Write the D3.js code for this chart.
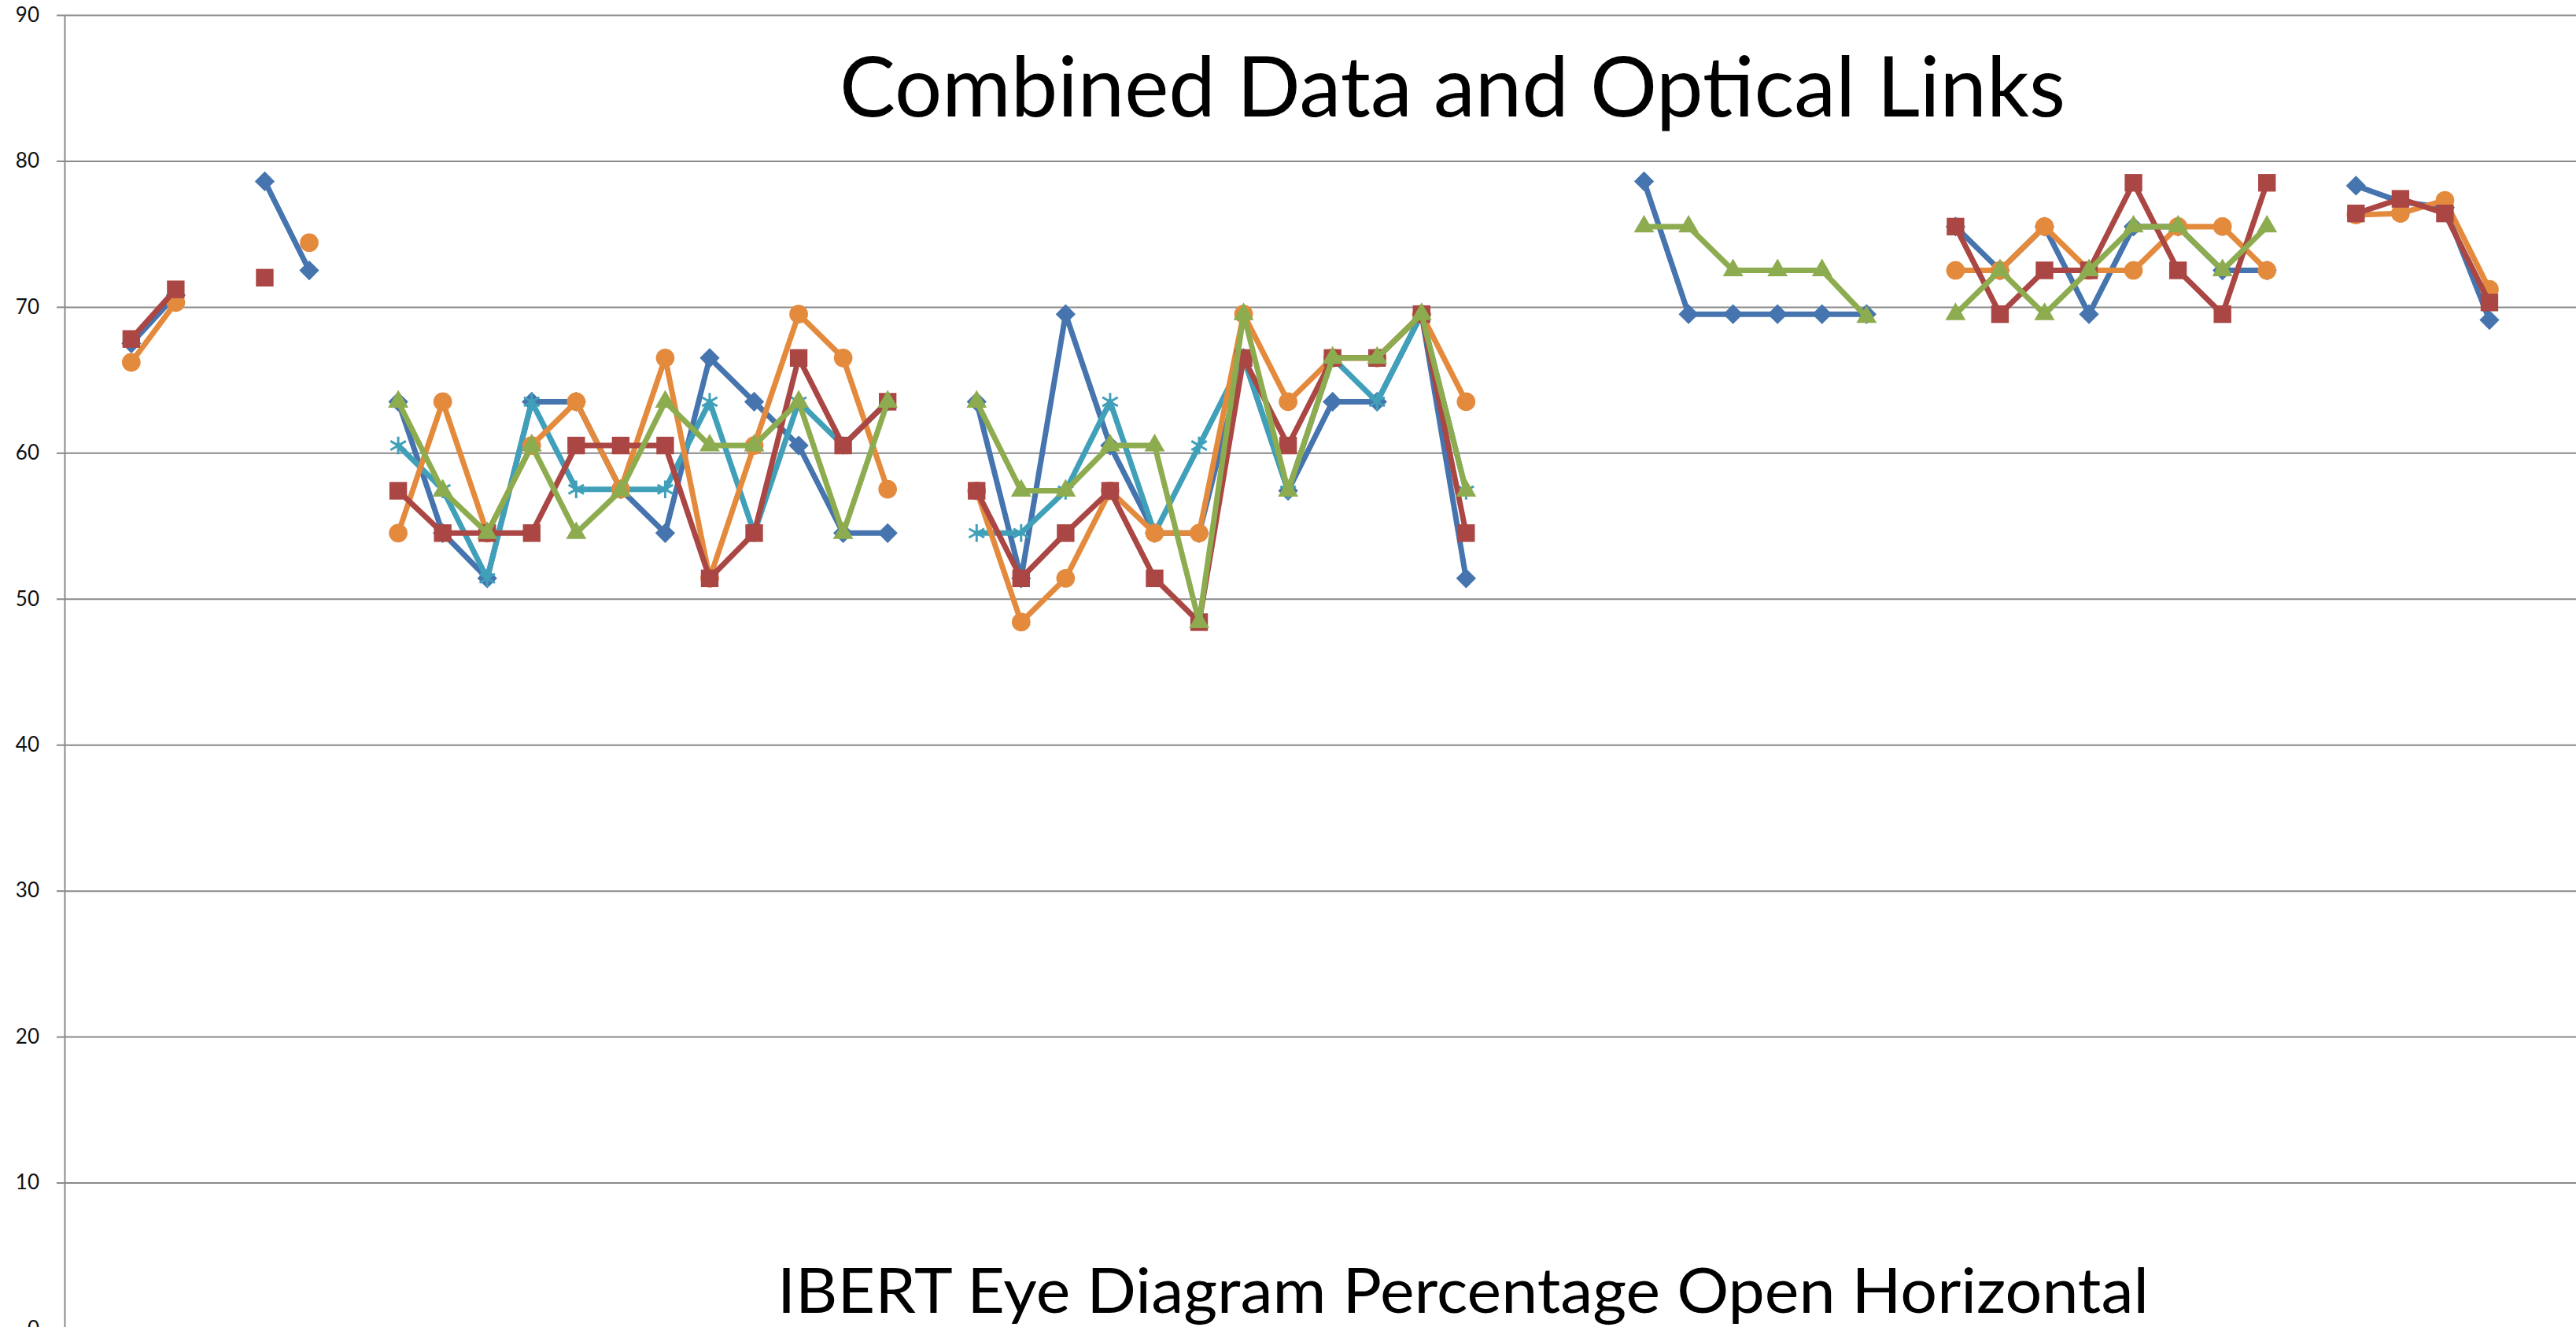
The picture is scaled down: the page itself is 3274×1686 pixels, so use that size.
<!DOCTYPE html>
<html>
<head>
<meta charset="utf-8">
<script src="https://cdn.jsdelivr.net/npm/d3@7"></script>
<style>
body { margin: 0; background: #fff; }
svg { display: block; }
</style>
</head>
<body>
<svg></svg>
<script>
// category slots along the x axis (first one is empty, as in the sheet)
let categories = [0, 1, 2, 3, 4, 5, 6, 7, 8, 9, 10, 11, 12, 13, 14, 15, 16, 17, 18, 19, 20,
    21, 22, 23, 24, 25, 26, 27, 28, 29, 30, 31, 32, 33, 34, 35, 36, 37, 38, 39, 40,
    41, 42, 43, 44, 45, 46, 47, 48, 49, 50, 51, 52, 53, 54, 55, 56]

let yTicks = [0, 10, 20, 30, 40, 50, 60, 70, 80, 90]

// series values, null = blank cell (line is broken there)
let blue = [null,
    67.5, 70.8, null, 78.6, 72.5, null,
    63.5, 54.5, 51.4, 63.5, 63.5, 57.5, 54.5, 66.5, 63.5, 60.5, 54.5, 54.5, null,
    63.5, 51.4, 69.5, 60.5, 54.5, 54.5, 66.5, 57.4, 63.5, 63.5, 69.5, 51.4, null, null, null,
    78.6, 69.5, 69.5, 69.5, 69.5, 69.5, null,
    75.5, 72.5, 75.5, 69.5, 75.5, 75.5, 72.5, 72.5, null,
    78.3, 77.2, 76.8, 69.1, null, null]

let red = [null,
    67.8, 71.2, null, 72.0, null, null,
    57.4, 54.5, 54.5, 54.5, 60.5, 60.5, 60.5, 51.4, 54.5, 66.5, 60.5, 63.5, null,
    57.4, 51.4, 54.5, 57.4, 51.4, 48.4, 66.5, 60.5, 66.5, 66.5, 69.5, 54.5, null, null, null,
    null, null, null, null, null, null, null,
    75.5, 69.5, 72.5, 72.5, 78.5, 72.5, 69.5, 78.5, null,
    76.4, 77.4, 76.4, 70.3, null, null]

let green = [null,
    null, null, null, null, null, null,
    63.5, 57.4, 54.5, 60.5, 54.5, 57.4, 63.5, 60.5, 60.5, 63.5, 54.5, 63.5, null,
    63.5, 57.4, 57.4, 60.5, 60.5, 48.4, 69.5, 57.4, 66.5, 66.5, 69.5, 57.4, null, null, null,
    75.5, 75.5, 72.5, 72.5, 72.5, 69.3, null,
    69.5, 72.5, 69.5, 72.5, 75.5, 75.5, 72.5, 75.5, null,
    null, null, null, null, null, null]

let teal = [null,
    null, null, null, null, null, null,
    60.5, 57.5, 51.4, 63.5, 57.5, 57.5, 57.5, 63.5, 54.5, 63.5, 60.5, 63.5, null,
    54.5, 54.5, 57.4, 63.5, 54.5, 60.5, 66.5, 57.4, 66.5, 63.5, 69.5, 57.4, null, null, null,
    null, null, null, null, null, null, null,
    null, null, null, null, null, null, null, null, null,
    null, null, null, null, null, null]

let orange = [null,
    66.2, 70.3, null, null, 74.4, null,
    54.5, 63.5, 54.5, 60.5, 63.5, 57.5, 66.5, 51.4, 60.5, 69.5, 66.5, 57.5, null,
    57.4, 48.4, 51.4, 57.4, 54.5, 54.5, 69.5, 63.5, 66.5, 66.5, 69.5, 63.5, null, null, null,
    null, null, null, null, null, null, null,
    72.5, 72.5, 75.5, 72.5, 72.5, 75.5, 75.5, 72.5, null,
    76.3, 76.4, 77.3, 71.2, null, null]

let titleText = 'Combined Data and Optical Links'
let xTitleText = 'IBERT Eye Diagram Percentage Open Horizontal'

let width = 3274
let height = 1686
let axisX = 82
let band = 56.55
let gridColor = '#898989'

let svg = d3.select('svg')
    .attr('width', width)
    .attr('height', height)
    .style('font-family', 'Lato, "Open Sans", sans-serif')

svg.append('rect')
    .attr('width', width)
    .attr('height', height)
    .attr('fill', '#fff')

let xScale = d3.scaleBand()
    .domain(categories)
    .range([axisX, axisX + categories.length * band])
    .padding(0)

let yScale = d3.scaleLinear()
    .domain([0, 90])
    .range([1688, 19])

// gridlines
let grid = svg.append('g')
    .attr('transform', 'translate(' + axisX + ',0)')
    .call(d3.axisLeft(yScale).tickValues(yTicks).tickSize(-(width - axisX)).tickFormat(''))
grid.select('.domain').remove()
grid.selectAll('line').attr('stroke', gridColor).attr('stroke-width', 2)

// y axis with small outside ticks
let yAxis = svg.append('g')
    .attr('transform', 'translate(' + axisX + ',0)')
    .call(d3.axisLeft(yScale).tickValues(yTicks).tickSize(10).tickSizeOuter(0).tickPadding(22))
yAxis.select('.domain').attr('stroke', gridColor).attr('stroke-width', 2)
yAxis.selectAll('line').attr('stroke', gridColor).attr('stroke-width', 2)
yAxis.selectAll('text')
    .attr('font-size', 26)
    .attr('font-family', 'Lato, sans-serif')
    .attr('fill', '#111')

let seriesList = [
    {name: 'blue', values: blue, color: '#4674AE', marker: 'diamond'},
    {name: 'teal', values: teal, color: '#40A0BA', marker: 'star'},
    {name: 'orange', values: orange, color: '#E48A3D', marker: 'circle'},
    {name: 'red', values: red, color: '#AA4643', marker: 'square'},
    {name: 'green', values: green, color: '#8DAC4F', marker: 'triangle'}
]

let xPos = (i) => xScale(categories[i]) + xScale.bandwidth() / 2

let line = d3.line()
    .defined((d) => d != null)
    .x((d, i) => xPos(i))
    .y((d) => yScale(d))

let symbolFor = (m) => {
    if (m == 'diamond') return d3.symbol(d3.symbolSquare, 320)()
    if (m == 'square') return d3.symbol(d3.symbolSquare, 500)()
    if (m == 'circle') return d3.symbol(d3.symbolCircle, 440)()
    if (m == 'triangle') return d3.symbol(d3.symbolTriangle, 290)()
    return d3.symbol(d3.symbolAsterisk, 360)()
}

seriesList.forEach((s) => {
    let g = svg.append('g').attr('class', 'series-' + s.name)

    g.append('path')
        .datum(s.values)
        .attr('d', line)
        .attr('fill', 'none')
        .attr('stroke', s.color)
        .attr('stroke-width', 7)
        .attr('stroke-linejoin', 'round')
        .attr('stroke-linecap', 'round')

    let pts = s.values
        .map((v, i) => ({v: v, i: i}))
        .filter((p) => p.v != null)

    g.selectAll('path.marker')
        .data(pts)
        .enter()
        .append('path')
        .attr('class', 'marker')
        .attr('d', symbolFor(s.marker))
        .attr('transform', (p) => {
            let t = 'translate(' + xPos(p.i) + ',' + yScale(p.v) + ')'
            return s.marker == 'diamond' ? t + ' rotate(45)' : t
        })
        .attr('fill', s.marker == 'star' ? 'none' : s.color)
        .attr('stroke', s.color)
        .attr('stroke-width', s.marker == 'star' ? 3 : 0)
})

// titles (drawn last, the axis title sits over the plot area)
svg.append('text')
    .attr('x', 1067)
    .attr('y', 148)
    .attr('font-size', 107)
    .attr('fill', '#000')
    .attr('textLength', 1558)
    .attr('lengthAdjust', 'spacingAndGlyphs')
    .text(titleText)

svg.append('text')
    .attr('x', 988)
    .attr('y', 1668)
    .attr('font-size', 79)
    .attr('fill', '#000')
    .attr('textLength', 1743)
    .attr('lengthAdjust', 'spacingAndGlyphs')
    .text(xTitleText)
</script>
</body>
</html>
